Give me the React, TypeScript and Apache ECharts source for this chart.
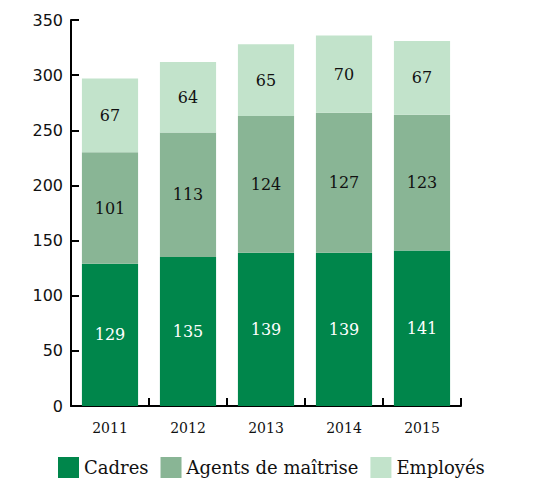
import React, { useEffect, useRef } from "react";
import * as echarts from "echarts";

const years = ["2011", "2012", "2013", "2014", "2015"];
const cadres = [129, 135, 139, 139, 141];
const agents = [101, 113, 124, 127, 123];
const employes = [67, 64, 65, 70, 67];
const yTicks = { min: 0, max: 350, interval: 50 };

const SERIF = "'DejaVu Serif', serif";
const SANS = "'DejaVu Sans', sans-serif";

export default function App() {
  const ref = useRef<HTMLDivElement>(null);
  useEffect(() => {
    const chart = echarts.init(ref.current!, null, { renderer: "svg" });
    const mk = (name: string, data: number[], color: string, labelColor: string) => ({
      name,
      type: "bar",
      stack: "total",
      data,
      barWidth: "72%",
      itemStyle: { color },
      label: {
        show: true,
        position: "inside",
        color: labelColor,
        fontFamily: SERIF,
        fontSize: 16,
      },
      emphasis: { disabled: true },
    });
    chart.setOption({
      animation: false,
      grid: { left: 71, right: 86, top: 20, bottom: 79, containLabel: false },
      legend: {
        bottom: 2,
        left: 53,
        itemWidth: 21,
        itemHeight: 21,
        itemGap: 12,
        icon: "rect",
        textStyle: { fontFamily: SERIF, fontSize: 18, color: "#111" },
        data: ["Cadres", "Agents de maîtrise", "Employés"],
      },
      xAxis: {
        type: "category",
        data: years,
        axisLine: { lineStyle: { color: "#000", width: 2 } },
        axisTick: { show: true, inside: true, length: 8, lineStyle: { color: "#000", width: 2 } },
        axisLabel: { fontFamily: SERIF, fontSize: 14, color: "#111", margin: 15 },
      },
      yAxis: {
        type: "value",
        min: yTicks.min,
        max: yTicks.max,
        interval: yTicks.interval,
        splitLine: { show: false },
        axisLine: { show: true, lineStyle: { color: "#000", width: 2 } },
        axisTick: { show: true, inside: true, length: 8, lineStyle: { color: "#000", width: 2 } },
        axisLabel: { fontFamily: SANS, fontSize: 16, color: "#111", margin: 8 },
      },
      series: [
        mk("Cadres", cadres, "#00864B", "#fff"),
        mk("Agents de maîtrise", agents, "#89B595", "#111"),
        mk("Employés", employes, "#C2E3CB", "#111"),
      ],
    });
    return () => chart.dispose();
  }, []);
  return (
    <div
      ref={ref}
      style={{ position: "absolute", left: 0, top: 0, width: 547, height: 485 }}
    />
  );
}
